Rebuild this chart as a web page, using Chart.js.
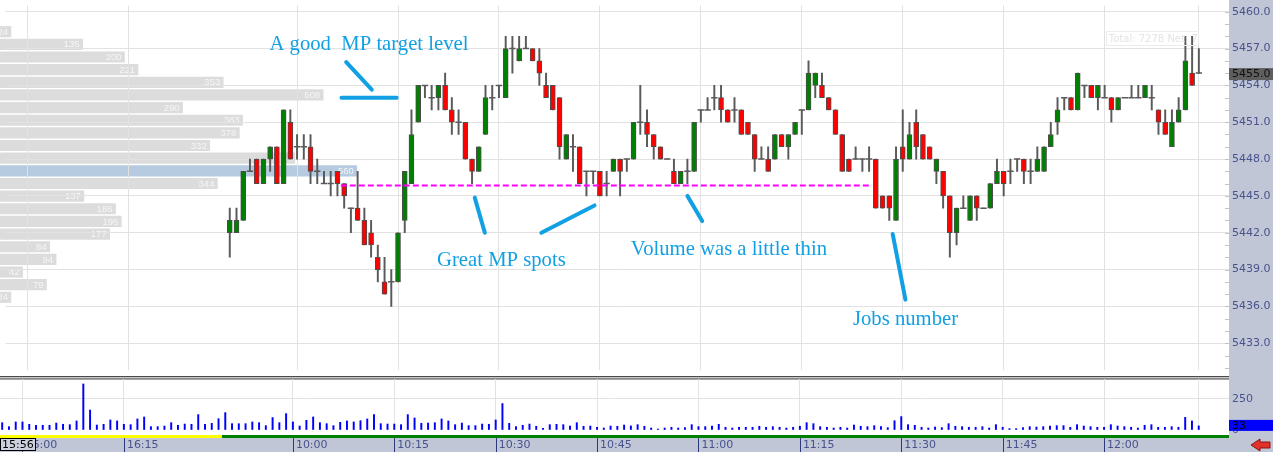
<!DOCTYPE html>
<html>
<head>
<meta charset="utf-8">
<script src="https://cdn.jsdelivr.net/npm/chart.js@4.4.1/dist/chart.umd.min.js"></script>
<style>
    html, body { margin: 0; padding: 0; background: #fff; }
    #wrap { position: relative; width: 1273px; height: 452px; overflow: hidden; }
    canvas { position: absolute; left: 0; }
    #profile { top: 0; z-index: 0; }
    #price { top: 0; z-index: 1; }
    #volume { top: 375px; z-index: 1; }
</style>
</head>
<body>
<div id="wrap">
    <canvas id="profile" width="1229" height="375"></canvas>
    <canvas id="price" width="1273" height="375"></canvas>
    <canvas id="volume" width="1273" height="77"></canvas>
</div>
<script>
// bar index of the first candle (09:50); earlier bars only carry volume
const firstBar = 33;

const opens = [
    5442, 5442, 5443, 5447, 5448, 5446, 5448, 5449, 5446, 5451,
    5449, 5449, 5449, 5447, 5446, 5446, 5447, 5446, 5444, 5444,
    5443, 5442, 5440, 5438, 5438, 5438, 5443, 5446, 5451, 5454,
    5453, 5453, 5454, 5452, 5451, 5451, 5448, 5447, 5450, 5453,
    5454, 5453, 5457, 5456, 5457, 5457, 5456, 5454, 5454, 5453,
    5448, 5449, 5449, 5447, 5447, 5447, 5446, 5447, 5448, 5448,
    5448, 5451, 5451, 5450, 5449, 5448, 5447, 5446, 5447, 5447,
    5452, 5452, 5453, 5453, 5452, 5452, 5452, 5451, 5450, 5448,
    5448, 5448, 5450, 5449, 5450, 5452, 5452, 5454, 5454, 5453,
    5452, 5450, 5448, 5448, 5448, 5448, 5448, 5445, 5445, 5443,
    5449, 5448, 5451, 5450, 5449, 5447, 5447, 5445, 5442, 5444,
    5443, 5445, 5444, 5444, 5446, 5447, 5447, 5448, 5448, 5447,
    5447, 5447, 5449, 5451, 5453, 5453, 5452, 5454, 5454, 5453,
    5453, 5453, 5452, 5453, 5453, 5453, 5453, 5453, 5452, 5451,
    5449, 5451, 5452, 5455, 5455
];
const highs = [
    5444, 5444, 5447, 5448, 5448, 5448, 5449, 5449, 5452, 5452,
    5450, 5450, 5450, 5448, 5447, 5447, 5447, 5446, 5444, 5447,
    5444, 5443, 5441, 5440, 5439, 5442, 5447, 5452, 5454, 5454,
    5454, 5454, 5455, 5453, 5452, 5451, 5448, 5449, 5454, 5454,
    5454, 5458, 5458, 5458, 5458, 5457, 5457, 5455, 5454, 5453,
    5450, 5450, 5449, 5447, 5447, 5447, 5447, 5448, 5448, 5448,
    5451, 5454, 5452, 5450, 5449, 5448, 5448, 5447, 5448, 5451,
    5452, 5453, 5454, 5454, 5452, 5453, 5452, 5451, 5450, 5449,
    5449, 5450, 5450, 5450, 5451, 5452, 5456, 5455, 5455, 5453,
    5452, 5450, 5448, 5449, 5448, 5449, 5448, 5445, 5445, 5449,
    5452, 5451, 5452, 5450, 5449, 5448, 5447, 5445, 5444, 5445,
    5445, 5445, 5444, 5446, 5448, 5447, 5448, 5448, 5448, 5448,
    5449, 5449, 5451, 5453, 5453, 5453, 5455, 5454, 5454, 5454,
    5454, 5453, 5453, 5453, 5454, 5454, 5454, 5454, 5452, 5452,
    5452, 5453, 5458, 5458, 5457
];
const lows = [
    5440, 5442, 5443, 5447, 5446, 5446, 5447, 5446, 5446, 5448,
    5448, 5448, 5446, 5446, 5446, 5445, 5445, 5444, 5442, 5443,
    5441, 5440, 5438, 5437, 5436, 5438, 5442, 5446, 5451, 5453,
    5452, 5452, 5452, 5450, 5450, 5448, 5446, 5447, 5450, 5452,
    5453, 5453, 5455, 5456, 5457, 5456, 5454, 5453, 5452, 5448,
    5448, 5447, 5446, 5445, 5446, 5445, 5445, 5447, 5445, 5447,
    5448, 5450, 5449, 5448, 5448, 5448, 5446, 5446, 5446, 5447,
    5451, 5452, 5452, 5451, 5451, 5451, 5450, 5450, 5447, 5448,
    5447, 5448, 5449, 5448, 5450, 5450, 5452, 5453, 5453, 5452,
    5450, 5447, 5447, 5448, 5447, 5447, 5444, 5444, 5443, 5443,
    5447, 5448, 5448, 5448, 5448, 5446, 5444, 5440, 5441, 5444,
    5443, 5443, 5444, 5444, 5446, 5445, 5446, 5447, 5446, 5446,
    5447, 5447, 5449, 5450, 5452, 5452, 5452, 5453, 5453, 5452,
    5453, 5451, 5452, 5453, 5453, 5453, 5453, 5452, 5450, 5450,
    5449, 5451, 5452, 5454, 5455
];
const closes = [
    5443, 5443, 5447, 5447, 5446, 5448, 5449, 5446, 5452, 5448,
    5449, 5449, 5447, 5447, 5446, 5446, 5446, 5445, 5444, 5443,
    5441, 5441, 5439, 5437, 5438, 5442, 5447, 5450, 5454, 5454,
    5453, 5454, 5452, 5451, 5451, 5448, 5447, 5449, 5453, 5453,
    5454, 5457, 5457, 5457, 5457, 5456, 5455, 5453, 5452, 5449,
    5450, 5449, 5446, 5447, 5447, 5445, 5446, 5448, 5447, 5448,
    5451, 5451, 5450, 5449, 5448, 5448, 5446, 5447, 5447, 5451,
    5452, 5452, 5453, 5452, 5451, 5452, 5450, 5450, 5448, 5448,
    5447, 5450, 5449, 5450, 5451, 5452, 5455, 5455, 5453, 5452,
    5450, 5447, 5447, 5448, 5448, 5448, 5444, 5444, 5444, 5448,
    5448, 5450, 5449, 5448, 5448, 5448, 5445, 5442, 5444, 5444,
    5445, 5444, 5444, 5446, 5447, 5446, 5447, 5448, 5447, 5447,
    5448, 5449, 5450, 5452, 5453, 5452, 5455, 5454, 5453, 5454,
    5453, 5452, 5453, 5453, 5453, 5453, 5454, 5453, 5451, 5450,
    5451, 5452, 5456, 5454, 5455
];

// one volume bar per minute, bar 0 .. 177
const volumes = [
    59, 27, 65, 65, 46, 38, 38, 38, 56, 46, 43, 73, 371, 161, 40, 46, 81, 73, 46, 43,
    89, 105, 27, 27, 32, 59, 38, 48, 46, 124, 46, 54, 91, 140, 51, 51, 51, 65, 59, 35,
    100, 59, 132, 65, 32, 78, 105, 59, 51, 35, 62, 73, 65, 75, 89, 124, 51, 48, 48, 43,
    124, 97, 54, 56, 59, 89, 73, 43, 56, 35, 35, 48, 46, 81, 213, 54, 27, 38, 48, 30,
    13, 43, 46, 43, 32, 59, 30, 32, 22, 16, 32, 30, 40, 33, 43, 30, 16, 8, 16, 22,
    16, 19, 43, 27, 27, 32, 46, 22, 16, 22, 22, 22, 30, 22, 27, 22, 16, 22, 30, 59,
    51, 27, 22, 16, 22, 16, 40, 30, 27, 35, 27, 19, 75, 108, 43, 38, 22, 16, 24, 19,
    51, 30, 27, 22, 22, 27, 16, 43, 22, 11, 11, 19, 27, 24, 27, 32, 35, 35, 22, 43,
    32, 27, 22, 22, 43, 32, 27, 22, 16, 38, 43, 22, 22, 27, 22, 102, 73, 33
];

const tickBars = [3, 18, 43, 58, 73, 88, 103, 118, 133, 148, 163, 177];
const tickLabels = ["16:00", "16:15", "10:00", "10:15", "10:30", "10:45", "11:00", "11:15", "11:30", "11:45", "12:00", ""];

// volume profile on the left
const profilePrices = [5458, 5457, 5456, 5455, 5454, 5453, 5452, 5451, 5450, 5449, 5448, 5447,
    5446, 5445, 5444, 5443, 5442, 5441, 5440, 5439, 5438, 5437, 5436];
const profileVolumes = [24, 135, 200, 221, 353, 508, 290, 383, 378, 332, 464, 560,
    344, 137, 186, 195, 177, 84, 94, 42, 79, 24, 6];
const profilePoc = 5447;

// drawn-in notes (text baseline positions)
const mpLevel = 5445.85;
const mpFrom = 49.5;
const mpTo = 128.4;
const noteTexts = ["A good  MP target level", "Great MP spots", "Volume was a little thin", "Jobs number"];
const noteBars = [38.9, 63.8, 92.6, 125.6];
const notePrices = [5456.89, 5439.32, 5440.21, 5434.46];
const strokes = [
    [50.3, 5455.9, 54.1, 5453.65],
    [49.6, 5453.0, 57.8, 5453.0],
    [69.4, 5444.86, 70.9, 5442.0],
    [79.3, 5442.0, 87.2, 5444.22],
    [101.0, 5445.0, 103.2, 5442.95],
    [131.5, 5441.9, 133.4, 5436.55]
];

const xMin = -0.325, xMax = 181.48;
const yMin = 5430.86, yMax = 5460.506;
const volMax = 411;

const axisBg = "#c1c6d6";
const axisText = "#48528c";
const gridColor = "#e2e2e2";
const noteBlue = "#12a0e4";
const axisFont = { family: "DejaVu Sans", size: 11 };

const candles = opens.map((o, i) => ({ x: firstBar + i, o, h: highs[i], l: lows[i], c: closes[i] }));
const bodies = candles.filter((k) => k.o !== k.c);
const dojis = candles.filter((k) => k.o === k.c);

const zeroPad = (s) => { s.paddingTop = 0; s.paddingBottom = 0; s.paddingLeft = 0; s.paddingRight = 0; };

const baseOpts = {
    responsive: false,
    animation: false,
    events: [],
    plugins: { legend: { display: false }, tooltip: { enabled: false } }
};

// --- volume profile (behind the price chart) ---
const profileLabels = {
    id: "profileLabels",
    afterDatasetsDraw(chart) {
        const { ctx } = chart;
        ctx.save();
        ctx.font = "9.5px 'Liberation Sans'";
        ctx.fillStyle = "#f6f6f6";
        ctx.textAlign = "right";
        ctx.textBaseline = "middle";
        chart.getDatasetMeta(0).data.forEach((bar, i) => {
            ctx.fillText(String(profileVolumes[i]), bar.x - 3, bar.y + 0.5);
        });
        ctx.restore();
    }
};

new Chart(document.getElementById("profile"), {
    type: "bar",
    data: {
        datasets: [{
            data: profilePrices.map((p, i) => ({ x: profileVolumes[i], y: p })),
            backgroundColor: profilePrices.map((p) => (p === profilePoc ? "#b6cbe0" : "#dcdcdc")),
            borderWidth: 0,
            barThickness: 10.5
        }]
    },
    options: {
        ...baseOpts,
        indexAxis: "y",
        scales: {
            x: { type: "linear", display: false, min: 7, max: 1912 },
            y: { type: "linear", display: false, min: yMin, max: yMax, offset: false }
        }
    },
    plugins: [profileLabels]
});

// --- price chart ---
const priceDecor = {
    id: "priceDecor",
    beforeDraw(chart) {
        const { ctx, chartArea: a, width, height } = chart;
        ctx.save();
        ctx.fillStyle = axisBg;
        ctx.fillRect(a.right, 0, width - a.right, height);
        ctx.restore();
    },
    afterDatasetsDraw(chart) {
        const { ctx, scales: { x, y } } = chart;
        ctx.save();
        ctx.font = "20.7px 'Liberation Serif'";
        ctx.fillStyle = noteBlue;
        ctx.textBaseline = "alphabetic";
        noteTexts.forEach((t, i) => {
            ctx.fillText(t, x.getPixelForValue(noteBars[i]), y.getPixelForValue(notePrices[i]));
        });
        ctx.restore();
    },
    afterDraw(chart) {
        const { ctx, chartArea: a, width, scales: { x, y } } = chart;
        ctx.save();
        // small minor ticks at the price axis
        ctx.strokeStyle = "#c4c4c4";
        ctx.lineWidth = 1;
        y.ticks.forEach((t) => {
            const py = Math.round(y.getPixelForValue(t.value)) + 0.5;
            ctx.beginPath();
            ctx.moveTo(a.right - 4, py);
            ctx.lineTo(a.right, py);
            ctx.stroke();
        });
        // last price marker
        const last = closes[closes.length - 1];
        const py = y.getPixelForValue(last);
        ctx.fillStyle = "#5e5e5e";
        ctx.fillRect(a.right, py - 5, width - a.right, 12);
        ctx.fillStyle = "#111";
        ctx.font = "11px 'DejaVu Sans'";
        ctx.textBaseline = "middle";
        ctx.fillText(last.toFixed(1), a.right + 3, py + 1.5);
        // faint totals box
        const bx = x.getPixelForValue(volumes.length - 1);
        ctx.strokeStyle = "#ececec";
        ctx.strokeRect(bx - 92.5, 31.5, 92, 14);
        ctx.beginPath();
        ctx.rect(bx - 92, 31, 91, 15);
        ctx.clip();
        ctx.fillStyle = "#e4e4e4";
        ctx.font = "10px 'DejaVu Sans'";
        ctx.fillText("Total: 7278 Net: 728", bx - 90, 39);
        ctx.restore();
    }
};

const strokeSets = strokes.map((s) => ({
    type: "line",
    data: [{ x: s[0], y: s[1] }, { x: s[2], y: s[3] }],
    borderColor: noteBlue,
    borderWidth: 4,
    borderCapStyle: "round",
    pointRadius: 0,
    order: 1
}));

new Chart(document.getElementById("price"), {
    type: "bar",
    data: {
        datasets: [
            {
                data: candles.map((k) => ({ x: k.x, y: [k.l, k.h] })),
                backgroundColor: "#5a5a5a",
                barThickness: 1.3,
                grouped: false,
                order: 6
            },
            {
                data: bodies.map((k) => ({ x: k.x, y: [k.o, k.c] })),
                backgroundColor: bodies.map((k) => (k.c > k.o ? "#008000" : "#ff0000")),
                borderColor: "#4d4d4d",
                borderWidth: 1,
                borderSkipped: false,
                barThickness: 5,
                grouped: false,
                order: 5
            },
            {
                type: "line",
                data: dojis.map((k) => ({ x: k.x, y: k.o })),
                showLine: false,
                pointStyle: "line",
                pointRadius: 3.2,
                borderColor: "#5a5a5a",
                pointBorderColor: "#5a5a5a",
                pointBorderWidth: 1.5,
                order: 4
            },
            {
                type: "line",
                data: [{ x: mpFrom, y: mpLevel }, { x: mpTo, y: mpLevel }],
                borderColor: "#ff00ff",
                borderWidth: 2,
                borderDash: [6, 3],
                pointRadius: 0,
                order: 2
            },
            ...strokeSets
        ]
    },
    options: {
        ...baseOpts,
        scales: {
            x: {
                type: "linear",
                min: xMin,
                max: xMax,
                offset: false,
                afterBuildTicks: (s) => { s.ticks = tickBars.map((v) => ({ value: v })); },
                afterFit: zeroPad,
                grid: { offset: false, color: gridColor, drawTicks: false },
                border: { display: false },
                ticks: { display: false, autoSkip: false }
            },
            y: {
                type: "linear",
                position: "right",
                min: yMin,
                max: yMax,
                afterBuildTicks: (s) => {
                    const t = [];
                    for (let v = Math.ceil(yMin); v <= Math.floor(yMax); v++) t.push({ value: v });
                    s.ticks = t;
                },
                afterFit: (s) => { zeroPad(s); s.width = 44; },
                grid: {
                    color: (c) => (c.tick && c.tick.value % 3 === 0 ? gridColor : "rgba(0,0,0,0)"),
                    drawTicks: false
                },
                border: { display: false },
                ticks: {
                    autoSkip: false,
                    padding: 3,
                    color: axisText,
                    font: axisFont,
                    callback: (v) => (v % 3 === 0 ? v.toFixed(1) : "")
                }
            }
        }
    },
    plugins: [priceDecor]
});

// --- volume panel with the time axis ---
const volumeDecor = {
    id: "volumeDecor",
    beforeDraw(chart) {
        const { ctx, chartArea: a, width, height, scales: { x } } = chart;
        ctx.save();
        ctx.fillStyle = axisBg;
        ctx.fillRect(a.right, 0, width - a.right, height);
        ctx.fillRect(0, 63, width, height - 63);
        const split = x.getPixelForValue(firstBar - 0.5);
        ctx.fillStyle = "#ffff00";
        ctx.fillRect(0, 60, split, 3);
        ctx.fillStyle = "#008000";
        ctx.fillRect(split, 60, a.right - split, 3);
        ctx.fillStyle = "#c8c8c8";
        ctx.fillRect(0, 1, a.right, 3);
        ctx.fillStyle = "#4a4a4a";
        ctx.fillRect(0, 1, a.right, 1);
        ctx.fillRect(0, 3.5, a.right, 1);
        ctx.restore();
    },
    afterDraw(chart) {
        const { ctx, chartArea: a, width, scales: { x, y } } = chart;
        ctx.save();
        ctx.strokeStyle = "#2c3a7e";
        ctx.lineWidth = 1;
        tickBars.forEach((v, i) => {
            if (!tickLabels[i]) return;
            const px = Math.round(x.getPixelForValue(v)) + 0.5;
            ctx.beginPath();
            ctx.moveTo(px, 63);
            ctx.lineTo(px, 77);
            ctx.stroke();
        });
        // cursor time box
        ctx.fillStyle = "#ccd0de";
        ctx.fillRect(0, 63, 35, 13);
        ctx.strokeStyle = "#000";
        ctx.strokeRect(0.5, 63.5, 35, 12);
        ctx.fillStyle = "#000";
        ctx.font = "11px 'DejaVu Sans'";
        ctx.textBaseline = "middle";
        ctx.fillText("15:56", 2, 70);
        // last volume marker
        const lastVol = volumes[volumes.length - 1];
        const vy = y.getPixelForValue(lastVol);
        ctx.fillStyle = "#0000ff";
        ctx.fillRect(a.right, vy - 6, width - a.right, 11);
        ctx.fillStyle = "#000";
        ctx.fillText(String(lastVol), a.right + 3, vy);
        // scroll arrow
        ctx.fillStyle = "#e2302a";
        ctx.strokeStyle = "#8c1414";
        ctx.beginPath();
        ctx.moveTo(1251, 70);
        ctx.lineTo(1260, 64);
        ctx.lineTo(1260, 67);
        ctx.lineTo(1270, 67);
        ctx.lineTo(1270, 73);
        ctx.lineTo(1260, 73);
        ctx.lineTo(1260, 76);
        ctx.closePath();
        ctx.fill();
        ctx.stroke();
        ctx.restore();
    }
};

new Chart(document.getElementById("volume"), {
    type: "bar",
    data: {
        datasets: [{
            data: volumes.map((v, i) => ({ x: i, y: v })),
            backgroundColor: "#0000ff",
            barThickness: 1.3
        }]
    },
    options: {
        ...baseOpts,
        layout: { padding: { top: 4 } },
        scales: {
            x: {
                type: "linear",
                min: xMin,
                max: xMax,
                offset: false,
                afterBuildTicks: (s) => { s.ticks = tickBars.map((v) => ({ value: v })); },
                afterFit: (s) => { zeroPad(s); s.height = 22; },
                grid: { offset: false, color: gridColor, drawTicks: false },
                border: { display: false },
                ticks: {
                    autoSkip: false,
                    maxRotation: 0,
                    align: "start",
                    labelOffset: 3,
                    padding: 9,
                    color: axisText,
                    font: axisFont,
                    callback: (v) => tickLabels[tickBars.indexOf(v)] || ""
                }
            },
            y: {
                type: "linear",
                position: "right",
                min: 0,
                max: volMax,
                afterBuildTicks: (s) => { s.ticks = [{ value: 0 }, { value: 250 }]; },
                afterFit: (s) => { zeroPad(s); s.width = 44; },
                grid: {
                    color: (c) => (c.tick && c.tick.value === 250 ? gridColor : "rgba(0,0,0,0)"),
                    drawTicks: false
                },
                border: { display: false },
                ticks: { autoSkip: false, padding: 3, color: axisText, font: axisFont }
            }
        }
    },
    plugins: [volumeDecor]
});
</script>
</body>
</html>
